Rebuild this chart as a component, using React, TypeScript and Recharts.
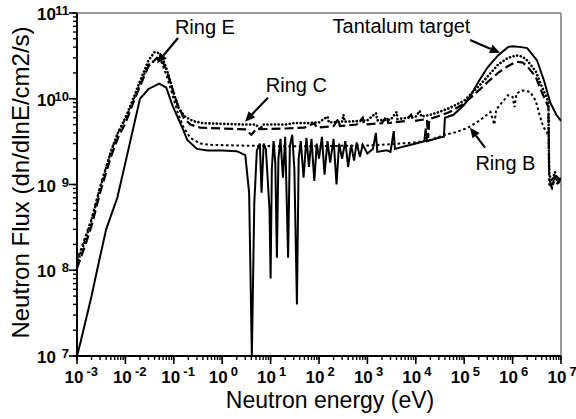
import React from "react";
import { LineChart, Line, XAxis, YAxis, ReferenceLine, ReferenceDot, Label } from "recharts";

// [energy (eV), flux]
const tantalumTarget = [
  [1e-3, 1e7], [1.2e-3, 1.5e7], [2e-3, 5e7], [2.6e-3, 1e8], [4e-3, 3e8], [6.8e-3, 7e8],
  [1e-2, 1.8e9], [2e-2, 1e10], [3e-2, 1.3e10], [5e-2, 1.5e10], [7e-2, 1.35e10], [9.5e-2, 8.2e9],
  [0.155, 4.4e9], [0.19, 3.3e9], [0.3, 2.6e9], [0.5, 2.5e9], [1, 2.5e9], [2, 2.45e9],
  [3, 2.2e9], [3.6, 8e8], [4.1, 1e7], [4.6, 6e8], [5.2, 2.5e9], [6, 3e9], [6.5, 8e8],
  [7.2, 3e9], [8, 2.6e9], [9.5, 5e8], [10, 8e7], [10.6, 1.5e9], [11.5, 3.2e9], [12.5, 1.8e9],
  [13.5, 1.4e8], [14.5, 2e9], [16, 3.4e9], [18, 1.2e9], [20, 3.6e9], [23, 1.4e8], [25, 2.8e9],
  [28, 3.8e9], [31, 1.5e9], [35, 4e7], [38, 2e9], [42, 3.2e9], [48, 1.2e9], [55, 3.5e9],
  [62, 1.6e9], [70, 3.4e9], [80, 1.1e9], [90, 3e9], [100, 2e9], [115, 3.6e9], [130, 1.3e9],
  [150, 3.2e9], [170, 1.8e9], [200, 3.4e9], [230, 1e9], [260, 3e9], [300, 2e9], [350, 3.2e9],
  [400, 1.6e9], [460, 2.9e9], [530, 1.9e9], [600, 3.1e9], [700, 2.1e9], [800, 2.9e9],
  [1000, 2.3e9], [1300, 2.6e9], [1500, 4e9], [1600, 2.4e9], [2500, 2.5e9], [3000, 2.4e9],
  [3500, 4.2e9], [3700, 2.6e9], [6000, 2.8e9], [1e4, 3e9], [1.5e4, 3.2e9], [1.6e4, 4.5e9],
  [1.7e4, 3.2e9], [3e4, 3.5e9], [3.8e4, 3.6e9], [4e4, 6e9], [6e4, 6.5e9], [1e5, 8.5e9],
  [1.3e5, 1.05e10], [2e5, 1.6e10], [3e5, 2.3e10], [5e5, 3.2e10], [8e5, 4e10], [1e6, 4.1e10],
  [1.5e6, 4e10], [2e6, 3.9e10], [3.2e6, 2.8e10], [4.5e6, 1.6e10], [6e6, 9e9], [8e6, 6.5e9],
  [1e7, 5.5e9],
];

const ringC = [
  [1e-3, 1.2e8], [1.5e-3, 2.3e8], [2e-3, 3.8e8], [3e-3, 9e8], [5e-3, 2.4e9], [7e-3, 4e9],
  [1e-2, 6e9], [1.4e-2, 9.5e9], [2e-2, 1.6e10], [3e-2, 2.8e10], [4e-2, 3.5e10], [5e-2, 3.4e10],
  [6e-2, 2.9e10], [8e-2, 1.8e10], [0.1, 1.15e10], [0.13, 7.5e9], [0.17, 6.2e9], [0.25, 5.5e9],
  [0.4, 5.2e9], [1, 5.1e9], [3, 5e9], [5, 5e9], [6, 4.4e9], [7, 5e9], [20, 5e9], [30, 5.2e9],
  [60, 5.2e9], [100, 5.3e9], [150, 6.2e9], [160, 5.3e9], [300, 5.4e9], [320, 6.5e9],
  [340, 5.4e9], [700, 5.5e9], [1000, 5.6e9], [1500, 6.8e9], [1600, 5.6e9], [3000, 5.7e9],
  [4000, 7e9], [4200, 5.8e9], [7000, 6e9], [1e4, 6.2e9], [1.2e4, 7.2e9], [1.3e4, 6.2e9],
  [2e4, 6.5e9], [3e4, 7e9], [5e4, 7.8e9], [1e5, 9.5e9], [2e5, 1.4e10], [3e5, 1.8e10],
  [5e5, 2.5e10], [8e5, 3e10], [1.2e6, 3.2e10], [1.6e6, 3.1e10], [2e6, 2.8e10], [3e6, 2.1e10],
  [4e6, 1.4e10], [5e6, 1.05e10], [5.5e6, 9e9], [5.7e6, 1.3e9], [6.5e6, 1.1e9], [7.5e6, 1.4e9],
  [8.5e6, 1e9], [1e7, 1.2e9],
];

const ringE = [
  [1e-3, 1.05e8], [1.5e-3, 2e8], [2e-3, 3.3e8], [3e-3, 8e8], [5e-3, 2.1e9], [7e-3, 3.5e9],
  [1e-2, 5.2e9], [1.4e-2, 8.5e9], [2e-2, 1.4e10], [3e-2, 2.4e10], [4.5e-2, 3e10], [5.5e-2, 2.9e10],
  [7e-2, 2.2e10], [9e-2, 1.4e10], [0.12, 8.5e9], [0.16, 6e9], [0.22, 5e9], [0.35, 4.6e9],
  [1, 4.5e9], [3, 4.4e9], [4, 3.8e9], [5, 4.4e9], [20, 4.5e9], [50, 4.6e9], [80, 5.2e9],
  [90, 4.6e9], [200, 4.8e9], [250, 5.8e9], [270, 4.8e9], [600, 5e9], [800, 6e9], [850, 5e9],
  [2000, 5.2e9], [2500, 6.3e9], [2700, 5.2e9], [6000, 5.5e9], [8000, 6.5e9], [9000, 5.5e9],
  [1.7e4, 5.8e9], [1.8e4, 3.5e9], [1.9e4, 5.8e9], [3e4, 6.3e9], [5e4, 7e9], [1e5, 8.8e9],
  [2e5, 1.25e10], [3e5, 1.55e10], [5e5, 2e10], [8e5, 2.4e10], [1.2e6, 2.7e10], [1.6e6, 2.65e10],
  [2e6, 2.4e10], [3e6, 1.8e10], [4e6, 1.2e10], [5e6, 9e9], [5.5e6, 8e9], [5.7e6, 1.2e9],
  [6.5e6, 9e8], [7.5e6, 1.3e9], [1e7, 1.1e9],
];

const ringB = [
  [1e-3, 1.3e8], [1.5e-3, 2.5e8], [2e-3, 4e8], [3e-3, 9.5e8], [5e-3, 2.4e9], [7e-3, 4e9],
  [1e-2, 5.8e9], [1.4e-2, 9e9], [2e-2, 1.5e10], [3e-2, 2.5e10], [4.5e-2, 2.9e10], [5.5e-2, 2.7e10],
  [7e-2, 1.9e10], [9e-2, 1.2e10], [0.12, 7e9], [0.16, 4.6e9], [0.22, 3.5e9], [0.35, 3e9],
  [0.6, 2.9e9], [2, 2.85e9], [10, 2.8e9], [100, 2.8e9], [1e3, 2.85e9], [3e3, 2.95e9],
  [1e4, 3.1e9], [2e4, 3.3e9], [4e4, 3.8e9], [7e4, 4.1e9], [1.2e5, 4.6e9], [2e5, 5.5e9],
  [3.5e5, 7e9], [4.2e5, 5e9], [4.6e5, 7.5e9], [6e5, 9e9], [8e5, 1.1e10], [1e6, 1.05e10],
  [1.1e6, 8e9], [1.2e6, 1.15e10], [1.6e6, 1.25e10], [2.3e6, 1.2e10], [3e6, 9.5e9],
  [3.6e6, 6.5e9], [4.3e6, 4.7e9], [5.2e6, 4e9], [5.6e6, 3.5e9], [5.7e6, 1e9], [6.5e6, 9e8],
  [7.5e6, 1.2e9], [1e7, 1e9],
];

const xDecades = [1e-3, 1e-2, 1e-1, 1, 10, 100, 1e3, 1e4, 1e5, 1e6, 1e7];
const yDecades = [1e7, 1e8, 1e9, 1e10, 1e11];
const minorSteps = [2, 3, 4, 5, 6, 7, 8, 9];

// annotations: label text position and arrow tail -> tip, in data units
const notes = [
  { text: "Ring E", x: 0.44, y: 5.7e10, tail: [0.122, 5.1e10], tip: [0.045, 2.6e10] },
  { text: "Ring C", x: 34, y: 1.2e10, tail: [8.8, 1.03e10], tip: [2.96, 5.4e9] },
  { text: "Tantalum target", x: 5070, y: 5.85e10, tail: [1.32e5, 4.85e10], tip: [5.5e5, 3.43e10] },
  { text: "Ring B", x: 7.1e5, y: 1.49e9, tail: [2.69e5, 2.69e9], tip: [1.32e5, 4.6e9] },
];

const toPoints = (rows: number[][]) => rows.map(([e, f]) => ({ e, f }));
const withMinors = (decades: number[], max: number) =>
  decades.flatMap((d) => [d, ...minorSteps.map((m) => m * d)]).filter((v) => v <= max * 1.0001);

const xTicks = withMinors(xDecades, 1e7);
const yTicks = withMinors(yDecades, 1e11);

const FONT = "'Liberation Sans', Arial, Helvetica, sans-serif";
const isDecade = (v: number) => Math.abs(Math.log10(v) - Math.round(Math.log10(v))) < 1e-6;

const XTick = (props: any) => {
  const { x, y, payload } = props;
  const v = payload.value;
  if (!isDecade(v)) return <g />;
  const exp = Math.round(Math.log10(v));
  const expW = exp < 0 ? 11 : 7;
  const total = 19 + 3 + expW;
  const left = x + 1 + (exp < 0 ? 3 : 0) - total / 2;
  return (
    <g>
      <line x1={x} x2={x} y1={y - 6} y2={y + 2} stroke="#000" strokeWidth={1.6} />
      <text x={left} y={y + 21} textAnchor="start" fontFamily={FONT} fontWeight="bold" fontSize={17} fill="#000">10</text>
      <text x={left + 22} y={y + 14} textAnchor="start" fontFamily={FONT} fontWeight="bold" fontSize={13} fill="#000">{exp}</text>
    </g>
  );
};

const YTick = (props: any) => {
  const { x, y, payload } = props;
  const v = payload.value;
  if (!isDecade(v)) return <g />;
  const exp = Math.round(Math.log10(v));
  return (
    <g>
      <line x1={x - 2} x2={x + 6} y1={y} y2={y} stroke="#000" strokeWidth={1.6} />
      <text x={x - 15} y={y + 7} textAnchor="end" fontFamily={FONT} fontWeight="bold" fontSize={17} fill="#000">10</text>
      <text x={x - 2} y={y + 2} textAnchor="end" fontFamily={FONT} fontWeight="bold" fontSize={13} fill="#000">{exp}</text>
    </g>
  );
};

const Arrow = (props: any) => {
  const { x1, y1, x2, y2 } = props;
  const dx = x2 - x1;
  const dy = y2 - y1;
  const len = Math.sqrt(dx * dx + dy * dy) || 1;
  const ux = dx / len;
  const uy = dy / len;
  const head = 10;
  const half = 4.5;
  const bx = x2 - ux * head;
  const by = y2 - uy * head;
  return (
    <g>
      <line x1={x1} y1={y1} x2={bx} y2={by} stroke="#000" strokeWidth={2.2} />
      <polygon
        points={`${x2},${y2} ${bx - uy * half},${by + ux * half} ${bx + uy * half},${by - ux * half}`}
        fill="#000"
      />
    </g>
  );
};

const series = [
  { name: "Tantalum target", rows: tantalumTarget, dash: undefined, width: 2, cap: "butt" },
  { name: "Ring C", rows: ringC, dash: "0.1 3.6", width: 2.6, cap: "round" },
  { name: "Ring E", rows: ringE, dash: "9 4", width: 2.2, cap: "butt" },
  { name: "Ring B", rows: ringB, dash: "2.6 2.6", width: 2, cap: "butt" },
];

export default function App() {
  return (
    <div style={{ position: "absolute", left: 0, top: 0, width: 576, height: 419 }}>
      <LineChart width={576} height={419} margin={{ top: 13, right: 15, bottom: 0, left: 0 }}>
        <XAxis
          type="number"
          dataKey="e"
          scale="log"
          domain={[1e-3, 1e7]}
          allowDataOverflow
          ticks={xTicks}
          interval={0}
          tick={<XTick />}
          tickSize={4}
          tickMargin={2}
          height={63}
          axisLine={{ stroke: "#000", strokeWidth: 2 }}
          tickLine={{ stroke: "#000", strokeWidth: 1.4 }}
        >
          <Label
            content={(p: any) => {
              const vb = p.viewBox;
              return (
                <text x={vb.x + vb.width / 2 + 11} y={vb.y + 52} textAnchor="middle" fontFamily={FONT} fontSize={23} fill="#000">
                  Neutron energy (eV)
                </text>
              );
            }}
          />
        </XAxis>
        <YAxis
          type="number"
          dataKey="f"
          scale="log"
          domain={[1e7, 1e11]}
          allowDataOverflow
          ticks={yTicks}
          interval={0}
          tick={<YTick />}
          tickSize={4}
          tickMargin={2}
          width={77}
          axisLine={{ stroke: "#000", strokeWidth: 2 }}
          tickLine={{ stroke: "#000", strokeWidth: 1.4 }}
        >
          <Label
            content={(p: any) => {
              const vb = p.viewBox;
              const cx = vb.x + 29;
              const cy = vb.y + vb.height / 2 - 2;
              return (
                <text x={cx} y={cy} transform={`rotate(-90, ${cx}, ${cy})`} textAnchor="middle" fontFamily={FONT} fontSize={24} fill="#000">
                  Neutron Flux (dn/dlnE/cm2/s)
                </text>
              );
            }}
          />
        </YAxis>
        <ReferenceLine y={1e11} stroke="#777" strokeWidth={1.5} />
        <ReferenceLine x={1e7} stroke="#777" strokeWidth={1.5} />
        {series.map((s) => (
          <Line
            key={s.name}
            name={s.name}
            data={toPoints(s.rows)}
            dataKey="f"
            type="linear"
            stroke="#000"
            strokeWidth={s.width}
            strokeDasharray={s.dash}
            strokeLinecap={s.cap as any}
            dot={false}
            activeDot={false}
            isAnimationActive={false}
          />
        ))}
        {notes.map((n) => (
          <ReferenceLine
            key={n.text + "-arrow"}
            segment={[{ x: n.tail[0], y: n.tail[1] }, { x: n.tip[0], y: n.tip[1] }]}
            shape={(p: any) => <Arrow {...p} />}
          />
        ))}
        {notes.map((n) => (
          <ReferenceDot
            key={n.text}
            x={n.x}
            y={n.y}
            r={0}
            shape={(p: any) => (
              <text x={p.cx} y={p.cy} textAnchor="middle" fontFamily={FONT} fontSize={20} fill="#000">
                {n.text}
              </text>
            )}
          />
        ))}
      </LineChart>
    </div>
  );
}
